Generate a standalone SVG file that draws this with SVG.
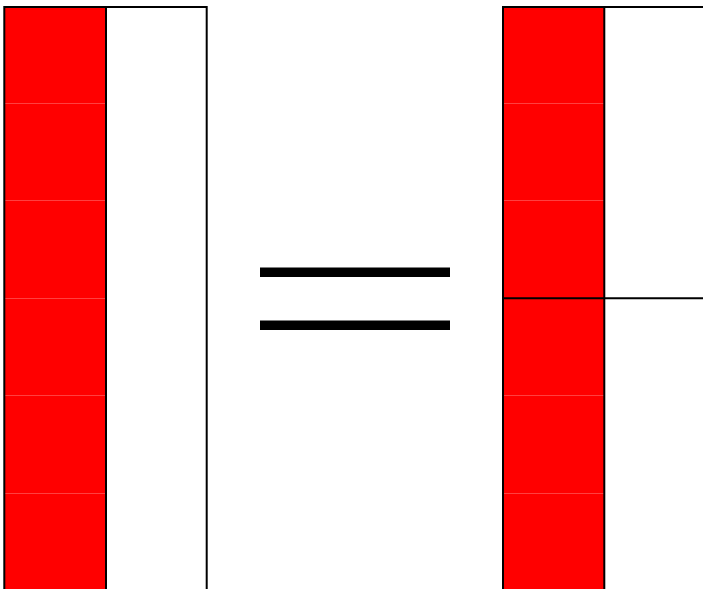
<svg xmlns="http://www.w3.org/2000/svg" width="703" height="589" viewBox="0 0 703 589">
<style>
.red{fill:#ff0000;stroke:none}
.grid{stroke:#ffffff;stroke-width:1;stroke-opacity:0.25;fill:none}
.border{stroke:#000000;stroke-width:2;fill:none}
.eq{fill:#000000}
</style>
<rect width="703" height="589" fill="#ffffff"/>
<g id="left-bar">
<rect class="red" x="4.3" y="7" width="101.7" height="590"/>
<g class="grid">
<line x1="3.5" y1="103.5" x2="106.5" y2="103.5"/>
<line x1="3.5" y1="200.5" x2="106.5" y2="200.5"/>
<line x1="3.5" y1="298.5" x2="106.5" y2="298.5"/>
<line x1="3.5" y1="395.5" x2="106.5" y2="395.5"/>
<line x1="3.5" y1="493.5" x2="106.5" y2="493.5"/>
</g>
<rect class="border" x="4.3" y="7" width="202.4" height="600"/>
<line class="border" x1="106" y1="7" x2="106" y2="600"/>
</g>
<g id="equals">
<rect class="eq" x="260" y="267.5" width="190" height="9.5"/>
<rect class="eq" x="260" y="320.5" width="190" height="9.5"/>
</g>
<g id="right-bar">
<rect class="red" x="503" y="7" width="101.3" height="590"/>
<g class="grid">
<line x1="502.5" y1="103.5" x2="605.5" y2="103.5"/>
<line x1="502.5" y1="200.5" x2="605.5" y2="200.5"/>
<line x1="502.5" y1="395.5" x2="605.5" y2="395.5"/>
<line x1="502.5" y1="493.5" x2="605.5" y2="493.5"/>
</g>
<rect class="border" x="503" y="7" width="220" height="600"/>
<line class="border" x1="604.3" y1="7" x2="604.3" y2="600"/>
<line class="border" x1="503" y1="298.3" x2="710" y2="298.3"/>
</g>
</svg>
